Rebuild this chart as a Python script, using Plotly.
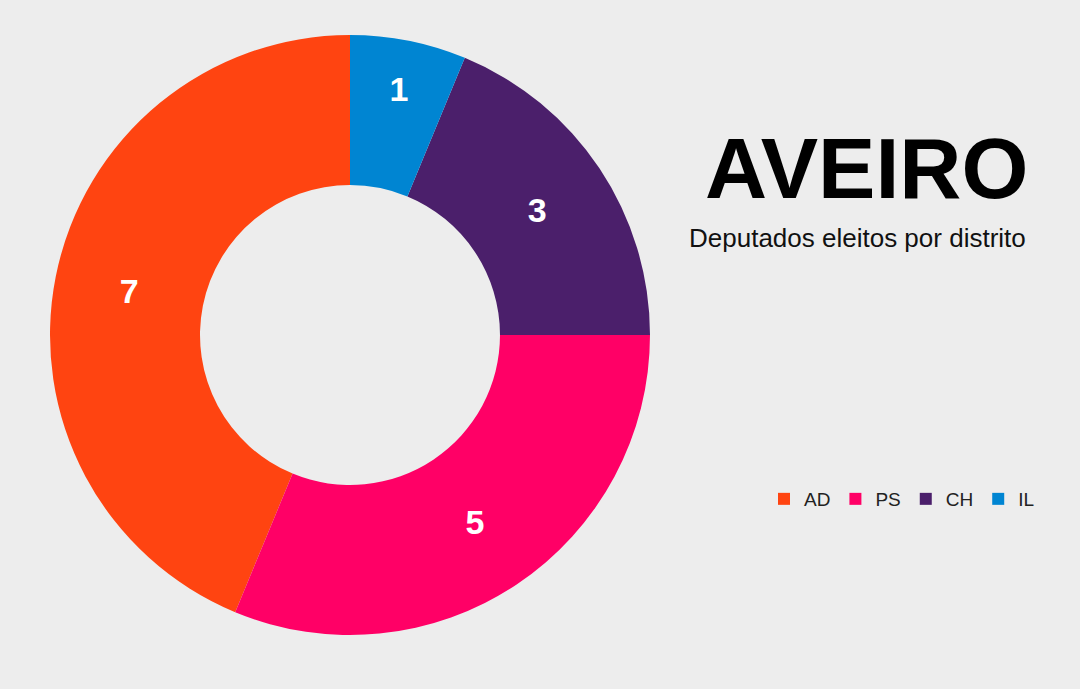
import plotly.graph_objects as go

# seats per party, Aveiro district
parties = ["AD", "PS", "CH", "IL"]
seats = [7, 5, 3, 1]
party_colors = ["#FF4411", "#FF0066", "#4B1F6B", "#0085D2"]

district = "AVEIRO"
subtitle = "Deputados eleitos por distrito"

W, H = 1080, 689
bg = "#EDEDED"

# donut centered at (350, 335) px with radius ~300
cx, cy, r = 350, 335, 300

fig = go.Figure()
fig.add_trace(go.Pie(
    labels=parties,
    values=seats,
    marker=dict(colors=party_colors, line=dict(width=0)),
    hole=0.5,
    sort=False,
    direction="counterclockwise",
    # plotly puts the end of the first slice at the rotation angle when counterclockwise
    rotation=-157.5,
    textinfo="value",
    textposition="inside",
    insidetextorientation="horizontal",
    textfont=dict(family="Liberation Sans, Arial", size=34, color="white", weight="bold"),
    domain=dict(x=[(cx - r) / W, (cx + r) / W], y=[(H - cy - r) / H, (H - cy + r) / H]),
    hoverinfo="label+value",
))

fig.add_annotation(
    x=866 / W, y=1 - 168 / H, xref="paper", yref="paper",
    text=f"<b>{district}</b>", showarrow=False,
    font=dict(family="Liberation Sans, Arial", size=86, color="black"),
    xanchor="center", yanchor="middle",
)
fig.add_annotation(
    x=857 / W, y=1 - 238 / H, xref="paper", yref="paper",
    text=subtitle, showarrow=False,
    font=dict(family="Liberation Sans, Arial", size=26, color="#111111"),
    xanchor="center", yanchor="middle",
)

fig.update_layout(
    width=W, height=H,
    margin=dict(l=0, r=0, t=0, b=0),
    paper_bgcolor=bg, plot_bgcolor=bg,
    showlegend=True,
    legend=dict(
        orientation="h",
        x=902 / W, y=1 - 499 / H, xanchor="center", yanchor="middle",
        font=dict(family="Liberation Sans, Arial", size=19, color="#222222"),
        bgcolor="rgba(0,0,0,0)",
        itemclick=False,
    ),
)

fig.write_html(
    "out.html",
    config={"displayModeBar": False},
    post_script="document.body.style.margin='0';",
)
